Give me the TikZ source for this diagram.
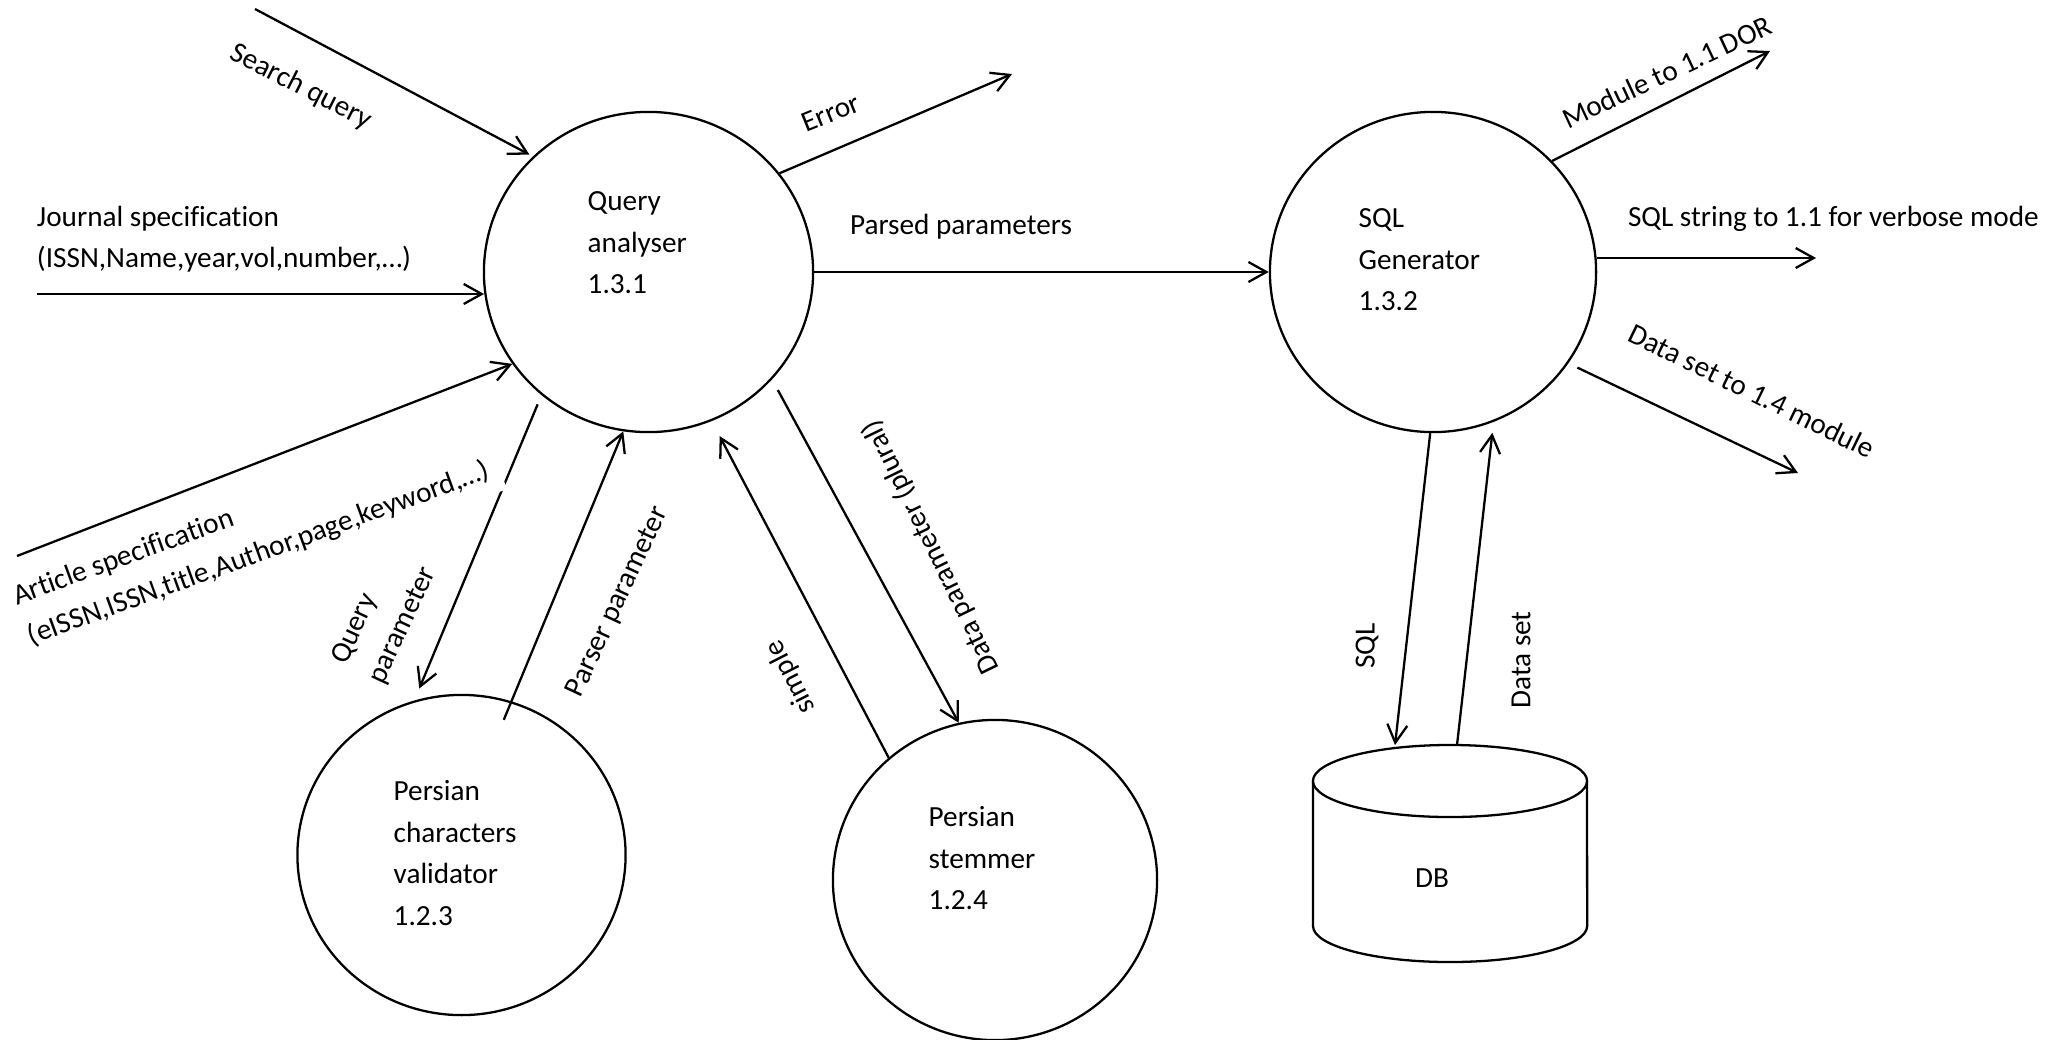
\documentclass[tikz,border=0pt]{standalone}
\usepackage{fontspec}
\setmainfont{Carlito}[Ligatures=NoCommon]
\usetikzlibrary{arrows.meta,shapes.geometric}
\begin{document}
\begin{tikzpicture}[x=0.01cm,y=-0.01cm,
  font=\fontsize{8.31pt}{11.81pt}\selectfont,
  proc/.style={draw,ellipse,line width=0.65pt,inner sep=0pt,
    minimum width=3.29cm,minimum height=3.20cm},
  flow/.style={line width=0.65pt,-{Straight Barb[length=0.18cm,width=0.2cm]}},
  lbl/.style={inner sep=0pt},
  body/.style={inner sep=0pt,align=left,anchor=north west}
]
\useasboundingbox (0,0) rectangle (2061,1039);

% processes
\node[proc] (qa) at (648.5,272) {};
\node[proc,minimum width=3.26cm] (sg) at (1433,272) {};
\node[proc,minimum width=3.28cm] (pv) at (461.5,855) {};
\node[proc,minimum width=3.24cm] (ps) at (995,880) {};

\node[body] (qat) at (587,181) {\strut Query\\\strut analyser\\\strut 1.3.1};
\node[body] (sgt) at (1358,198) {\strut SQL\\\strut Generator\\\strut 1.3.2};
\node[body] (pvt) at (393,771) {\strut Persian\\\strut characters\\\strut validator\\\strut 1.2.3};
\node[body] (pst) at (928,797) {\strut Persian\\\strut stemmer\\\strut 1.2.4};

% data store
\draw[line width=0.65pt] (1313,781) -- (1313,926)
  arc[start angle=180,end angle=360,x radius=1.37cm,y radius=0.36cm] -- (1587,781);
\draw[line width=0.65pt] (1450,781) ellipse[x radius=1.37cm,y radius=0.36cm];
\node[lbl] (db) at (1432,878) {DB};

% free ends
\coordinate (sqin) at (255,9);
\coordinate (jin) at (37,294);
\coordinate (ain) at (17,556);
\coordinate (errout) at (1012,74);
\coordinate (dorout) at (1770,51);
\coordinate (vbout) at (1816,258);
\coordinate (dsout) at (1798,473);
\coordinate (dbin) at (1395,745);
\coordinate (dbout) at (1457,745);

% flows into the query analyser
\draw[flow,shorten >=0.04cm] (sqin) -- (qa.135.8);
\draw[flow] (jin) -- (qa.187.6 |- jin);
\draw[flow] (ain) -- (qa.214.8);

% flows between the analyser and its helpers
\draw[flow,shorten <=0.1cm,shorten >=0.13cm] (qa.229.9) -- (pv.107.6);
\draw[flow,shorten <=-0.2cm] (pv.72.1) -- (qa.261.6);
\draw[flow,shorten >=0.17cm] (ps.131.7) -- (qa.293.6);
\draw[flow,shorten <=0.12cm] (qa.319.4) -- (ps.103.2);

\draw[flow] (qa.37.8) -- (errout);
\draw[flow] (qa.east) -- (sg.west);

% flows out of the SQL generator
\draw[flow] (sg.43.8) -- (dorout);
\draw[flow] (sg.4.9 |- vbout) -- (vbout);
\draw[flow,shorten <=0.1cm] (sg.-34.2) -- (dsout);
\draw[flow] (sg.269.3) -- (dbin);
\draw[flow,shorten >=0.11cm] (dbout) -- (sg.292.8);

% labels
\node[lbl,rotate=-27] (sql) at (301,87) {Search query};
\node[lbl,anchor=text] (jl1) at (37,226) {Journal specification};
\node[lbl,anchor=text] (jl2) at (37,267) {(ISSN,Name,year,vol,number,…)};
\node[lbl,anchor=text,rotate=20] (al1) at (17,605) {Article specification};
\node[lbl,anchor=text,rotate=20,fill=white,inner sep=0.11cm] (al2) at (32,645)
  {(eISSN,ISSN,title,Author,page,keyword,…)\hspace{0.14cm}};
\node[lbl,anchor=text,rotate=65] (qp1) at (346,665) {Query};
\node[lbl,anchor=text,rotate=65] (qp2) at (383,685) {parameter};
\node[lbl,rotate=65] (ppl) at (618,602) {Parser parameter};
\node[lbl,rotate=117] (sml) at (791,677) {simple};
\node[lbl,rotate=116] (dpl) at (931,547) {Data parameter (plural)};
\node[lbl,rotate=22] (erl) at (831,113) {Error};
\node[lbl,anchor=text] (pal) at (850,234) {Parsed parameters};
\node[lbl,rotate=25] (dorl) at (1667,72) {Module to 1.1 DOR};
\node[lbl,anchor=text] (vbl) at (1628,226) {SQL string to 1.1 for verbose mode};
\node[lbl,rotate=-26] (dsl) at (1752,391) {Data set to 1.4 module};
\node[lbl,rotate=90] (sqll) at (1367,646) {SQL};
\node[lbl,rotate=90] (dsetl) at (1521,660) {Data set};
\end{tikzpicture}
\end{document}
